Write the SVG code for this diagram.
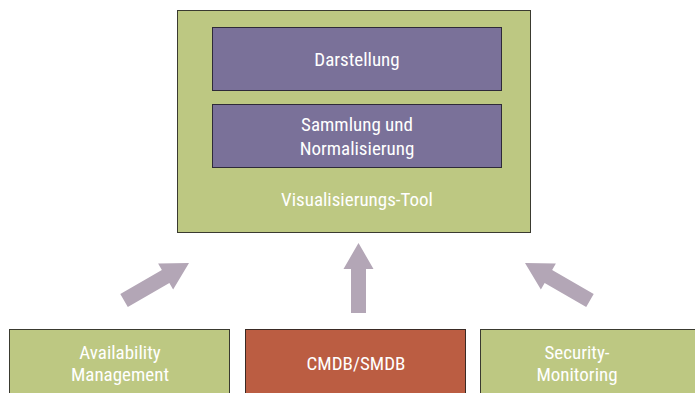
<svg xmlns="http://www.w3.org/2000/svg" width="695" height="393" viewBox="0 0 695 393">
  <style>
    .green { fill: #bdc882; stroke: #3a3a30; stroke-width: 1; }
    .purple { fill: #7a7199; stroke: #2e2a38; stroke-width: 1; }
    .red { fill: #bb5d42; stroke: #3a2a24; stroke-width: 1; }
    .label { fill: #ffffff; font-family: "Liberation Sans Narrow", "Roboto Condensed", "Liberation Sans", sans-serif; font-size: 19px; text-anchor: middle; }
    .arrow { fill: #b3a6b6; }
  </style>
  <defs>
    <!-- block arrows, tip at origin, pointing up -->
    <polygon id="blockArrow" points="0,0 15,26 7.5,26 7.5,70 -7.5,70 -7.5,26 -15,26"/>
    <polygon id="blockArrowLong" points="0,0 15,27 7.5,27 7.5,75 -7.5,75 -7.5,27 -15,27"/>
  </defs>

  <rect width="695" height="393" fill="#ffffff"/>

  <g id="visualisierungs-tool">
    <rect class="green" x="177.5" y="10.5" width="353" height="222"/>
    <text class="label" x="357" y="206">Visualisierungs-Tool</text>
  </g>

  <g id="darstellung">
    <rect class="purple" x="212.5" y="27.5" width="289" height="63"/>
    <text class="label" x="357" y="66">Darstellung</text>
  </g>

  <g id="sammlung">
    <rect class="purple" x="212.5" y="104.5" width="289" height="63"/>
    <text class="label" x="357" y="131">Sammlung und</text>
    <text class="label" x="357" y="155">Normalisierung</text>
  </g>

  <g id="connectors">
    <use href="#blockArrowLong" class="arrow" transform="translate(189,263) rotate(60)"/>
    <use href="#blockArrow" class="arrow" transform="translate(358.5,243)"/>
    <use href="#blockArrowLong" class="arrow" transform="translate(525,263) rotate(-60)"/>
  </g>

  <g id="availability-management">
    <rect class="green" x="9.5" y="329.5" width="220" height="70"/>
    <text class="label" x="120" y="359">Availability</text>
    <text class="label" x="120" y="381">Management</text>
  </g>

  <g id="cmdb-smdb">
    <rect class="red" x="245.5" y="329.5" width="220" height="70"/>
    <text class="label" x="356" y="370">CMDB/SMDB</text>
  </g>

  <g id="security-monitoring">
    <rect class="green" x="480.5" y="329.5" width="220" height="70"/>
    <text class="label" x="577" y="359">Security-</text>
    <text class="label" x="577" y="381">Monitoring</text>
  </g>
</svg>
